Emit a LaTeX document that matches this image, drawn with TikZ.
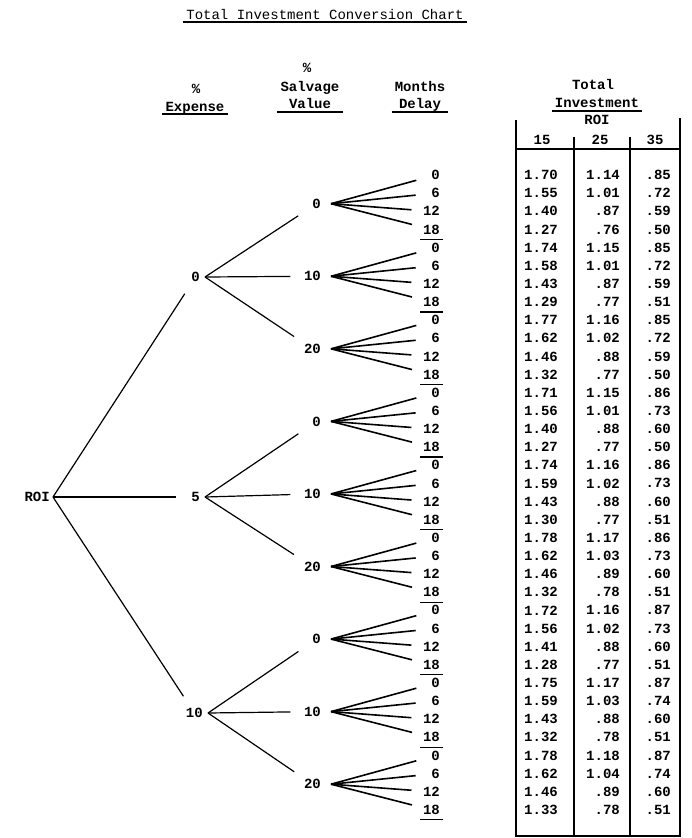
\documentclass[tikz,border=0pt]{standalone}
\usepackage{fontspec}
\setmainfont{Liberation Mono}
\usetikzlibrary{calc}

\begin{document}
\begin{tikzpicture}[
    x=1pt, y=-1pt,
    lbl/.style={font=\fontsize{14}{16}\selectfont\bfseries, inner sep=0pt},
    head/.style={lbl, anchor=base, inner xsep=3pt},
    leaf/.style={lbl, anchor=east, inner xsep=3pt, inner ysep=5pt},
    salv/.style={lbl, anchor=east, inner xsep=10pt},
    expn/.style={lbl, anchor=east, inner xsep=5pt},
    trunk/.style={line width=1.2pt, shorten >=20pt},
    branch/.style={line width=1.2pt, shorten >=22pt},
    fan/.style={line width=1.6pt, shorten >=20pt},
    rule/.style={line width=1.2pt},
]
\useasboundingbox (0,0) rectangle (692,838);

% Title
\node[head, font=\fontsize{14}{16}\selectfont] (title) at (325,19) {Total Investment Conversion Chart};
\draw[rule] ($(title.base west)+(0,3)$) -- ($(title.base east)+(0,3)$);

% Column headings
\node[head] (pct-e) at (196,93) {\%};
\node[head] (hd-exp) at (195,111) {Expense};
\draw[rule] ($(hd-exp.base west)+(0,3)$) -- ($(hd-exp.base east)+(0,3)$);

\node[head] (pct-s) at (307,72) {\%};
\node[head] (hd-salv) at (310,91) {Salvage};
\node[head] (hd-val) at (310,108) {Value};
\draw[rule] ($(hd-salv.base west)+(0,21)$) -- ($(hd-salv.base east)+(0,21)$);

\node[head] (hd-mon) at (420,91) {Months};
\node[head] (hd-del) at (420,108) {Delay};
\draw[rule] ($(hd-mon.base west)+(0,21)$) -- ($(hd-mon.base east)+(0,21)$);

\node[head] (hd-tot) at (593,89) {Total};
\node[head] (hd-inv) at (597,107) {Investment};
\draw[rule] ($(hd-inv.base west)+(0,4)$) -- ($(hd-inv.base east)+(0,4)$);
\node[head] (hd-roi) at (597,124) {ROI};

\node[head] (c-15) at (542,144) {15};
\node[head] (c-25) at (600,144) {25};
\node[head] (c-35) at (655,144) {35};

% Table frame
\draw[rule] (516,120) -- (516,836) -- (680,836) -- (680,118);
\draw[rule] (516,149) -- (680,149);
\draw[rule] (574,137) -- (574,836);
\draw[rule] (630,137) -- (630,836);

% Root and expense levels
\node[lbl, anchor=east, inner xsep=3pt] (roi) at (53,497) {ROI};
\node[expn] (e-1) at (205,277) {0};
\node[expn] (e-2) at (205,497) {5};
\node[expn] (e-3) at (208,713) {10};
\foreach \e in {1,2,3}
    \draw[trunk] (roi.east) -- (e-\e.center);

% Salvage level
\foreach \v [count=\g from 0] in {0,10,20,0,10,20,0,10,20}
    \node[salv] (s-\g) at (331,{176.5+(4*\g+1.5)*18.14}) {\v};
\foreach \e/\g in {1/0,1/1,1/2,2/3,2/4,2/5,3/6,3/7,3/8}
    \draw[branch] (e-\e.east) -- (s-\g.center);

% Months delay leaves
\foreach \g in {0,...,8}{
    \foreach \m [count=\j from 0] in {0,6,12,18}{
        \node[leaf] (m-\g-\j) at (443,{175+(4*\g+\j)*18.14}) {\m};
        \draw[fan] (s-\g.east) -- (m-\g-\j.center);
    }
    \draw[rule] (m-\g-3.south west) -- (m-\g-3.south east);
}

% Table values
\foreach \a/\b/\c [count=\i from 0] in {
    1.70/1.14/.85, 1.55/1.01/.72, 1.40/.87/.59, 1.27/.76/.50,
    1.74/1.15/.85, 1.58/1.01/.72, 1.43/.87/.59, 1.29/.77/.51,
    1.77/1.16/.85, 1.62/1.02/.72, 1.46/.88/.59, 1.32/.77/.50,
    1.71/1.15/.86, 1.56/1.01/.73, 1.40/.88/.60, 1.27/.77/.50,
    1.74/1.16/.86, 1.59/1.02/.73, 1.43/.88/.60, 1.30/.77/.51,
    1.78/1.17/.86, 1.62/1.03/.73, 1.46/.89/.60, 1.32/.78/.51,
    1.72/1.16/.87, 1.56/1.02/.73, 1.41/.88/.60, 1.28/.77/.51,
    1.75/1.17/.87, 1.59/1.03/.74, 1.43/.88/.60, 1.32/.78/.51,
    1.78/1.18/.87, 1.62/1.04/.74, 1.46/.89/.60, 1.33/.78/.51}{
    \node[lbl] (t-\i-a) at (541,{175+\i*18.14}) {\a};
    \node[lbl, anchor=east] (t-\i-b) at (620,{175+\i*18.14}) {\b};
    \node[lbl, anchor=east] (t-\i-c) at (671,{175+\i*18.14}) {\c};
}

\end{tikzpicture}
\end{document}
